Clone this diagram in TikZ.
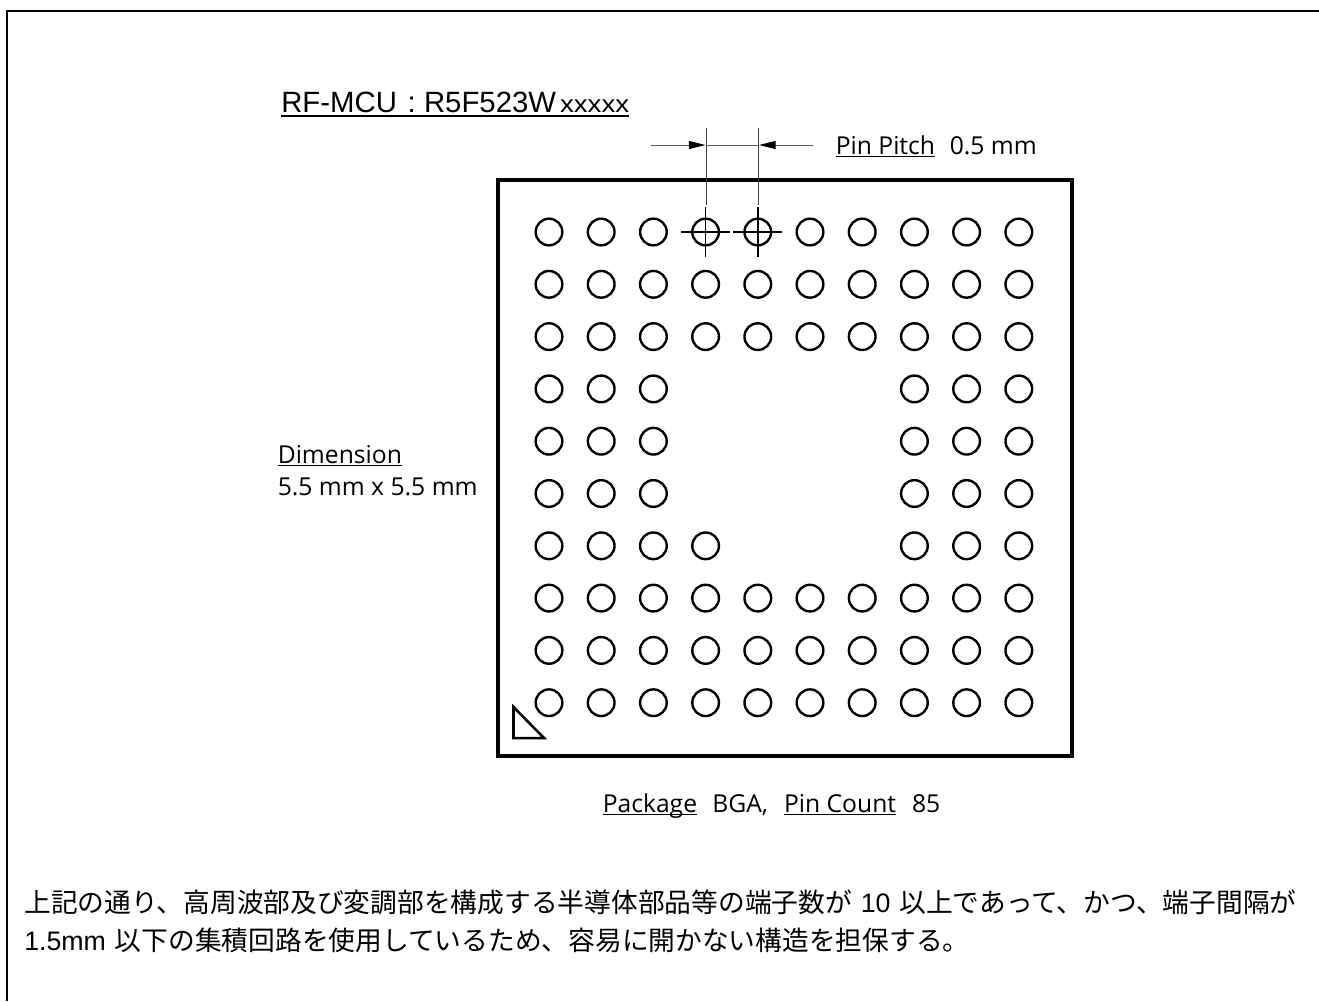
\documentclass[tikz,border=0pt]{standalone}
\usepackage{fontspec}
\setmainfont{Open Sans}
\newfontfamily\arialfont{Liberation Sans}
\newfontfamily\widefont[FakeStretch=1.15]{Liberation Sans}
\newfontfamily\cjkfont{Noto Sans CJK JP}
\usetikzlibrary{arrows.meta}
\newcommand{\lineunder}[1]{\setbox0\hbox{#1}\rlap{\rule[-2.2pt]{\wd0}{0.9pt}}\box0}
\newcommand{\lat}[1]{{\arialfont #1}}

\begin{document}
\begin{tikzpicture}[
    x=0.75pt, y=-0.75pt,
    pin/.style={circle, draw=black, line width=1.8pt, minimum size=20pt, inner sep=0pt},
    package/.style={rectangle, draw=black, line width=3pt, minimum width=431pt, minimum height=432pt, inner sep=0pt},
    leader/.style={line width=0.75pt, black!75},
    dimline/.style={line width=0.75pt, black!65},
    dimarrow/.style={-{Triangle[length=12.5pt,width=6pt,color=black]}, line width=0.75pt, black!65},
    cross/.style={line width=1.1pt, black},
    label/.style={font=\fontsize{18.5}{22}\selectfont, anchor=base west, inner sep=0pt},
    bodytext/.style={font=\fontsize{20.05}{28.5}\cjkfont, anchor=base west, inner sep=0pt, align=left, text width=985pt}
]
\useasboundingbox (0,0) rectangle (1319,1001);

% Outer frame
\draw[line width=1.5pt] (7,1001) -- (7,11) -- (1319,11);

% Title
\node[font=\fontsize{22}{25}\arialfont, anchor=base west, inner sep=0pt] (title) at (281,112.5)
    {\setbox0\hbox{RF-MCU\hspace{2pt} : R5F523W\hspace{3pt}{\fontsize{18}{25}\widefont xxxxx}}\rlap{\rule[-3.4pt]{\wd0}{1.6pt}}\box0};

% Package outline
\node[package] (chip) at (785,467.5) {};

% Pins
\foreach \r in {0,...,9} {
    \foreach \c in {0,...,9} {
        \ifnum\r>2 \ifnum\r<7 \ifnum\c>2 \ifnum\c<7
            \def\skip{1}
            \ifnum\r=6 \ifnum\c=3 \def\skip{0}\fi\fi
        \else \def\skip{0}\fi \else \def\skip{0}\fi \else \def\skip{0}\fi \else \def\skip{0}\fi
        \if\skip0
            \node[pin] (pin-\r-\c) at ({549+52.2*\c},{232+52.3*\r}) {};
        \fi
    }
}

% Pin mark
\draw[line width=1.9pt, line join=miter] (513.5,707) -- (513.5,738) -- (544,738) -- cycle;

% Pin pitch
\coordinate (pitchA) at (706,128);
\coordinate (pitchB) at (758.5,128);
\coordinate (pitchL) at (651,145);
\coordinate (pitchR) at (813,145);
\coordinate (pitchAm) at (705.5,145);
\coordinate (pitchBm) at (759,145);
\coordinate (pitchAe) at (706,205);
\coordinate (pitchBe) at (758.5,205);
\draw[leader] (pitchA) -- (pitchAe);
\draw[leader] (pitchB) -- (pitchBe);
\draw[dimline] (pitchAm) -- (pitchBm);
\draw[dimarrow] (pitchL) -- (pitchAm);
\draw[dimarrow] (pitchR) -- (pitchBm);
\foreach \c in {3,4} {
    \draw[cross] ([yshift=-18.4pt]pin-0-\c.center) -- ([yshift=18.4pt]pin-0-\c.center);
    \draw[cross] ([xshift=-18.4pt]pin-0-\c.center) -- ([xshift=18.4pt]pin-0-\c.center);
}
\node[label] (pitch) at (835.5,154) {\lineunder{Pin Pitch}\hspace{11pt}0.5 mm};

% Dimension
\node[label] (dim1) at (277.5,463) {\lineunder{Dimension}};
\node[label] (dim2) at (277.5,495) {5.5 mm x 5.5 mm};

% Package label
\node[label] (pkg) at (602.5,812.5) {\lineunder{Package}\hspace{11.5pt}BGA,\hspace{12pt}\lineunder{Pin Count}\hspace{12pt}85};

% Note
\node[bodytext] (note) at (24,912.5) {上記の通り、高周波部及び変調部を構成する半導体部品等の端子数が \lat{10} 以上であって、かつ、端子間隔が\\\lat{1.5mm} 以下の集積回路を使用しているため、容易に開かない構造を担保する。};

\end{tikzpicture}
\end{document}
